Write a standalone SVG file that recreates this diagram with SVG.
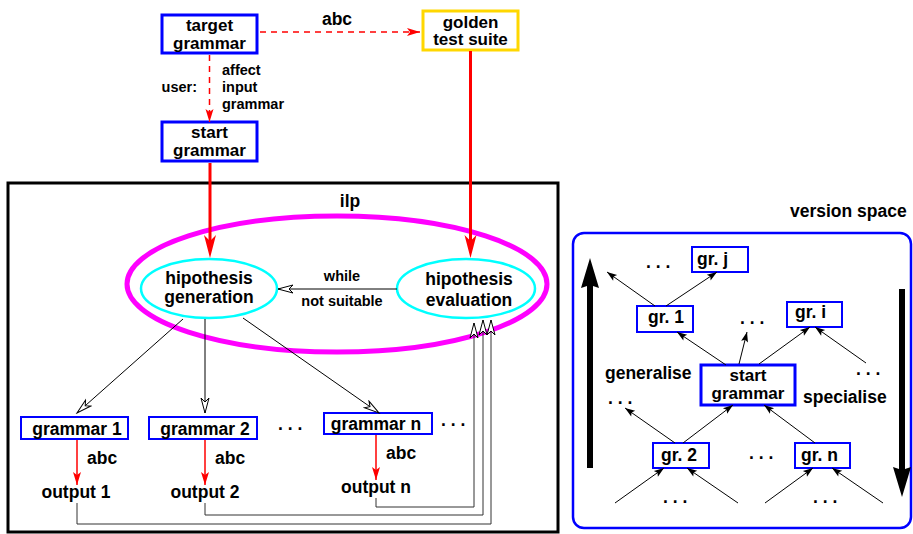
<svg xmlns="http://www.w3.org/2000/svg" width="913" height="534" viewBox="0 0 913 534">
<style>
text{font-family:"Liberation Sans",Arial,Helvetica,sans-serif;font-weight:bold;fill:#000}
.t{font-size:17.5px}
.t2{font-size:17px}
.s{font-size:14.5px}
.m{text-anchor:middle}
.bx{fill:#fff;stroke:#0000ff;stroke-width:2}
.bx3{fill:#fff;stroke:#0000ff;stroke-width:3}
.th{fill:none;stroke:#000;stroke-width:1}
.gr{fill:none;stroke:#333;stroke-width:1}
.red3{fill:none;stroke:#ff0000;stroke-width:3}
.red1{fill:none;stroke:#ff0000;stroke-width:1.5}
.dash{fill:none;stroke:#ff0000;stroke-width:1.5;stroke-dasharray:6 5}
</style>
<defs>
<marker id="redBig" markerUnits="userSpaceOnUse" markerWidth="26" markerHeight="16" viewBox="-1 -8 26 16" refX="6" refY="0" orient="auto"><path d="M0,-6 L23,0 L0,6 L6,0 Z" fill="#ff0000"/></marker>
<marker id="redSm" markerUnits="userSpaceOnUse" markerWidth="16" markerHeight="10" viewBox="-1 -5 16 10" refX="13" refY="0" orient="auto"><path d="M0,-4 L13,0 L0,4 L3,0 Z" fill="#ff0000"/></marker>
<marker id="open" markerUnits="userSpaceOnUse" markerWidth="18" markerHeight="12" viewBox="-1 -6 18 12" refX="15" refY="0" orient="auto"><path d="M0,-4 L15,0 L0,4 L4,0 Z" fill="#fff" stroke="#000" stroke-width="1"/></marker>
<marker id="blk" markerUnits="userSpaceOnUse" markerWidth="12" markerHeight="10" viewBox="-1 -5 12 10" refX="10" refY="0" orient="auto"><path d="M0,-3.5 L10,0 L0,3.5 L2,0 Z" fill="#000"/></marker>
<marker id="big" markerUnits="userSpaceOnUse" markerWidth="34" markerHeight="22" viewBox="-1 -11 34 22" refX="3" refY="0" orient="auto"><path d="M0,-9 L30,0 L0,9 L3,0 Z" fill="#000"/></marker>
</defs>

<!-- ilp frame -->
<g id="ilp">
<rect x="8" y="183" width="550" height="349" fill="none" stroke="#000" stroke-width="3"/>
<text class="t m" x="350" y="207">ilp</text>
<ellipse cx="337" cy="284" rx="210" ry="68" fill="none" stroke="#ff00ff" stroke-width="5"/>
</g>

<g id="target-grammar">
<rect class="bx3" x="162" y="15" width="95" height="38"/>
<text class="t2 m" x="209.5" y="30.5">target</text>
<text class="t2 m" x="209.5" y="48.5">grammar</text>
</g>
<g id="golden-test-suite">
<rect x="423" y="11" width="95" height="39" fill="#fff" stroke="#ffd700" stroke-width="3"/>
<text class="t2 m" x="470.5" y="27.5">golden</text>
<text class="t2 m" x="470.5" y="45">test suite</text>
</g>
<g id="start-grammar">
<rect class="bx3" x="162" y="122" width="95" height="39"/>
<text class="t2 m" x="209.5" y="138">start</text>
<text class="t2 m" x="209.5" y="156">grammar</text>
</g>
<g id="hipothesis-generation">
<ellipse cx="209" cy="288.5" rx="68" ry="29.5" fill="none" stroke="#00ffff" stroke-width="2.5"/>
<text class="t m" x="209" y="284">hipothesis</text>
<text class="t m" x="209" y="303">generation</text>
</g>
<g id="hipothesis-evaluation">
<ellipse cx="466" cy="288.5" rx="69" ry="29.5" fill="none" stroke="#00ffff" stroke-width="2.5"/>
<text class="t m" x="469" y="285">hipothesis</text>
<text class="t m" x="469" y="306">evaluation</text>
</g>
<g id="grammar-1">
<rect class="bx" x="21" y="417" width="107" height="22"/>
<text class="t m" x="77" y="435">grammar 1</text>
</g>
<g id="grammar-2">
<rect class="bx" x="149" y="417" width="108" height="22"/>
<text class="t m" x="205" y="435">grammar 2</text>
</g>
<g id="grammar-n">
<rect class="bx" x="324" y="413" width="108" height="21"/>
<text class="t m" x="376" y="430">grammar n</text>
</g>
<g id="output-1"><text class="t m" x="76" y="498">output 1</text></g>
<g id="output-2"><text class="t m" x="205" y="498">output 2</text></g>
<g id="output-n"><text class="t m" x="376" y="493">output n</text></g>
<g id="dots-left">
<text class="t" x="278" y="430">. . .</text>
<text class="t" x="441" y="426">. . .</text>
</g>

<!-- version space -->
<g id="version-space">
<text class="t" x="790" y="217">version space</text>
<rect x="573" y="233" width="338" height="295" rx="11" fill="none" stroke="#0000ff" stroke-width="2.5"/>
</g>
<g id="gr-j"><rect class="bx" x="692" y="247" width="56" height="25"/><text class="t" x="697" y="265">gr. j</text></g>
<g id="gr-1"><rect class="bx" x="637" y="306" width="56" height="26"/><text class="t" x="648" y="323">gr. 1</text></g>
<g id="gr-i"><rect class="bx" x="787" y="302" width="55" height="25"/><text class="t" x="795" y="318">gr. i</text></g>
<g id="vs-start-grammar"><rect class="bx3" x="701" y="365" width="94" height="40"/>
<text class="t2 m" x="748" y="381">start</text><text class="t2 m" x="748" y="399">grammar</text></g>
<g id="gr-2"><rect class="bx" x="653" y="443" width="56" height="25"/><text class="t" x="661" y="461">gr. 2</text></g>
<g id="gr-n"><rect class="bx" x="795" y="443" width="55" height="25"/><text class="t" x="801" y="461">gr. n</text></g>
<g id="vs-labels">
<text class="t" x="605" y="379">generalise</text>
<text class="t" x="803" y="403">specialise</text>
<text class="t" x="646" y="268">. . .</text>
<text class="t" x="740" y="324">. . .</text>
<text class="t" x="856" y="375">. . .</text>
<text class="t" x="608" y="404">. . .</text>
<text class="t" x="749" y="459">. . .</text>
<text class="t" x="663" y="503">. . .</text>
<text class="t" x="813" y="503">. . .</text>
</g>

<g id="connectors">
<line class="dash" x1="260" y1="32" x2="420" y2="32" marker-end="url(#redSm)"/>
<text class="t m" x="337" y="24.5">abc</text>
<line class="dash" x1="209.5" y1="55" x2="209.5" y2="122" marker-end="url(#redSm)"/>
<text class="s" x="197" y="92" text-anchor="end">user:</text>
<text class="s" x="222" y="75">affect</text>
<text class="s" x="222" y="92">input</text>
<text class="s" x="222" y="109">grammar</text>
<line class="red3" x1="210" y1="163" x2="210" y2="241" marker-end="url(#redBig)"/>
<line class="red3" x1="470.5" y1="51" x2="470.5" y2="241" marker-end="url(#redBig)"/>
<line class="th" x1="397" y1="289" x2="278" y2="289" marker-end="url(#open)"/>
<text class="s m" x="342" y="281">while</text>
<text class="s m" x="342" y="306">not suitable</text>
<line class="th" x1="183" y1="319" x2="77" y2="413" marker-end="url(#open)"/>
<line class="th" x1="205" y1="319" x2="205" y2="413" marker-end="url(#open)"/>
<line class="th" x1="243" y1="318" x2="379" y2="413" marker-end="url(#open)"/>
<line class="red1" x1="77" y1="440" x2="77" y2="485" marker-end="url(#redSm)"/>
<line class="red1" x1="205" y1="440" x2="205" y2="485" marker-end="url(#redSm)"/>
<line class="red1" x1="376" y1="435" x2="376" y2="480" marker-end="url(#redSm)"/>
<text class="t" x="87" y="464">abc</text>
<text class="t" x="215" y="464">abc</text>
<text class="t" x="386" y="459">abc</text>
<polyline class="gr" points="77,503 77,524 491,524 491,320" marker-end="url(#open)"/>
<polyline class="gr" points="205,503 205,515 483,515 483,320" marker-end="url(#open)"/>
<polyline class="gr" points="376,498 376,507 474,507 474,323" marker-end="url(#open)"/>

<line x1="590" y1="468" x2="590" y2="285" stroke="#000" stroke-width="6" marker-end="url(#big)"/>
<line x1="902" y1="289" x2="902" y2="470" stroke="#000" stroke-width="6" marker-end="url(#big)"/>
<line class="th" x1="655" y1="306" x2="607" y2="272" marker-end="url(#blk)"/>
<line class="th" x1="666" y1="306" x2="717" y2="272" marker-end="url(#blk)"/>
<line class="th" x1="726" y1="365" x2="677" y2="332" marker-end="url(#blk)"/>
<line class="th" x1="739" y1="364" x2="747" y2="332" marker-end="url(#blk)"/>
<line class="th" x1="759" y1="364" x2="810" y2="327" marker-end="url(#blk)"/>
<line class="th" x1="866" y1="363" x2="815" y2="327" marker-end="url(#blk)"/>
<line class="th" x1="675" y1="443" x2="625" y2="408" marker-end="url(#blk)"/>
<line class="th" x1="683" y1="443" x2="733" y2="405" marker-end="url(#blk)"/>
<line class="th" x1="815" y1="443" x2="764" y2="405" marker-end="url(#blk)"/>
<line class="th" x1="615" y1="503" x2="664" y2="468" marker-end="url(#blk)"/>
<line class="th" x1="738" y1="503" x2="687" y2="468" marker-end="url(#blk)"/>
<line class="th" x1="765" y1="503" x2="813" y2="468" marker-end="url(#blk)"/>
<line class="th" x1="883" y1="503" x2="832" y2="468" marker-end="url(#blk)"/>
</g>
</svg>
